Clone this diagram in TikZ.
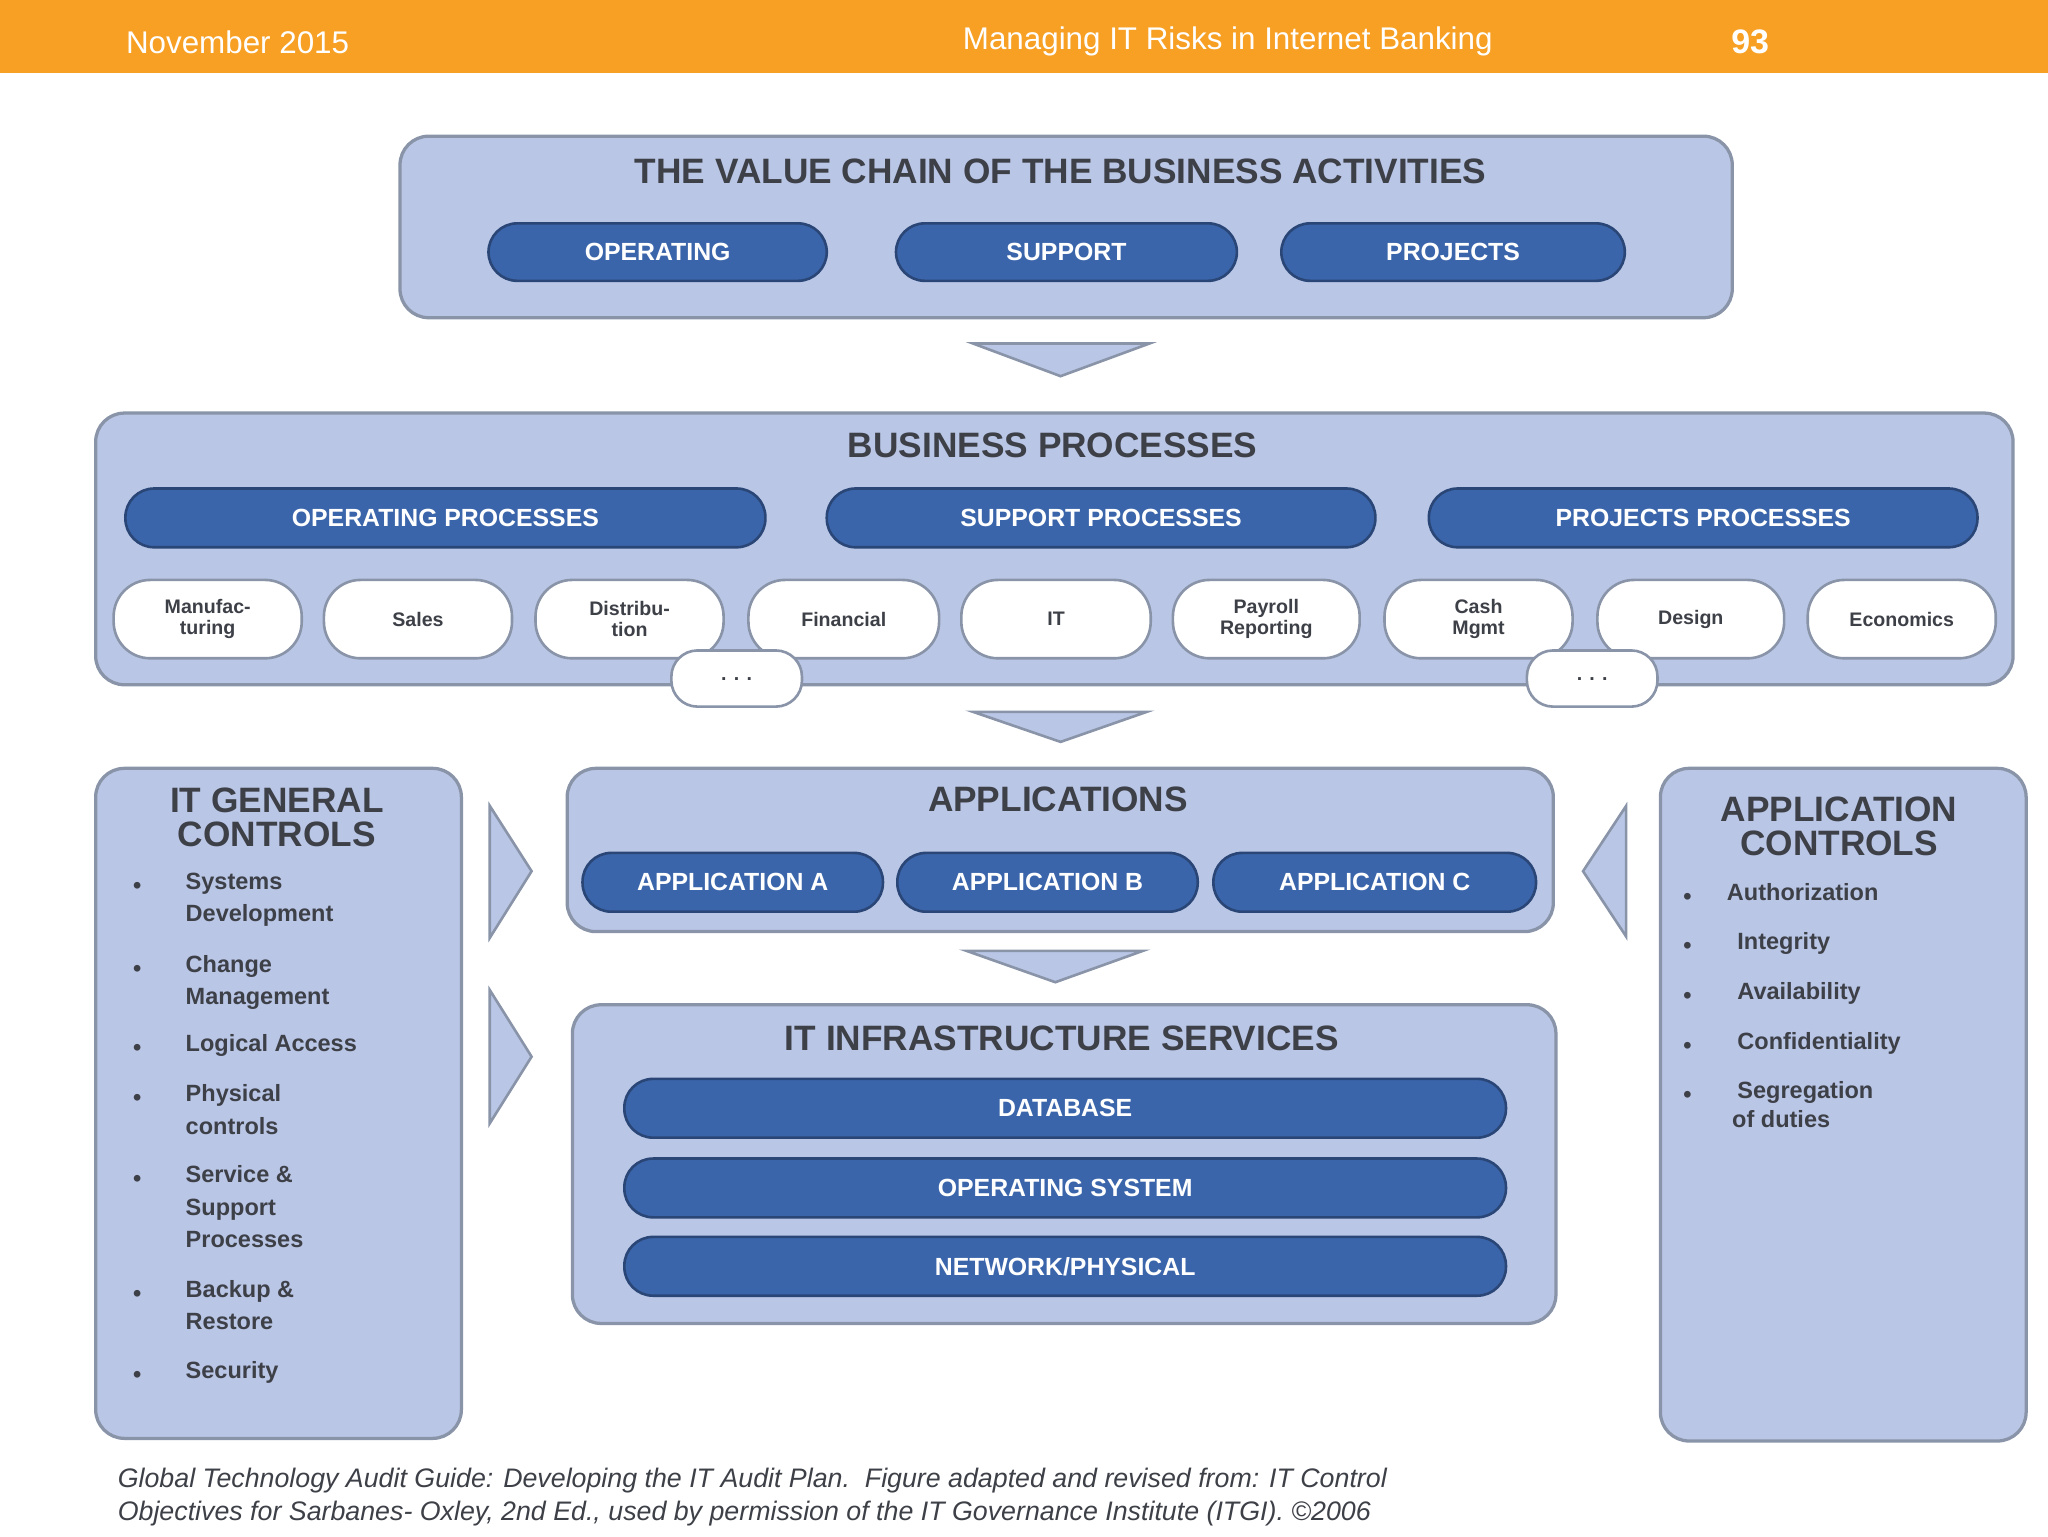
\documentclass[tikz,border=0pt]{standalone}
\usepackage{fontspec}
\setmainfont{Liberation Sans}
\begin{document}
\begin{tikzpicture}[x=1pt,y=-1pt,
  box/.style={draw=boxline,line width=2.5pt,fill=boxfill,rounded corners=22pt,anchor=north west,inner sep=0pt},
  pill/.style={draw=pillline,line width=2pt,fill=pillfill,rounded corners=22pt,anchor=north west,inner sep=0pt,text=white,font=\fontsize{19}{20}\selectfont\bfseries},
  wpill/.style={draw=boxline,line width=2pt,fill=white,rounded corners=28pt,anchor=north west,inner sep=0pt,text=titlec,align=center,font=\fontsize{15}{16}\selectfont\bfseries},
  ttl/.style={text=titlec,font=\fontsize{27}{30}\selectfont\bfseries,align=center},
  item/.style={text=titlec,font=\fontsize{18}{25}\selectfont\bfseries,align=left,anchor=north west,inner sep=0pt},
  bul/.style={text=titlec,font=\fontsize{18}{20}\selectfont\bfseries},
  tri/.style={draw=boxline,line width=2pt,fill=boxfill}]
\definecolor{boxfill}{HTML}{B9C6E6}
\definecolor{boxline}{HTML}{8A94A8}
\definecolor{pillfill}{HTML}{3B65AA}
\definecolor{pillline}{HTML}{2A4677}
\definecolor{titlec}{HTML}{3E4048}
\definecolor{orng}{HTML}{F7A024}
\useasboundingbox (0,0) rectangle (1568,1176);
\fill[white] (0,0) rectangle (1568,1176);
\fill[orng] (0,0) rectangle (1568,56);
\node[text=white,anchor=west,font=\fontsize{24}{26}\selectfont] (hd1) at (93,32) {November 2015};
\node[text=white,font=\fontsize{24}{26}\selectfont] (hd2) at (940,32) {Managing IT Risks in Internet Banking};
\node[text=white,font=\fontsize{26}{28}\selectfont\bfseries] (hd3) at (1340,32) {93};
% value chain
\node[box,minimum width=1020,minimum height=139] (vc) at (305,103) {};
\node[ttl] (vct) at (812,131) {THE VALUE CHAIN OF THE BUSINESS ACTIVITIES};
\node[pill,minimum width=259,minimum height=44] (p1) at (373,170) {OPERATING};
\node[pill,minimum width=261,minimum height=44] (p2) at (685,170) {SUPPORT};
\node[pill,minimum width=263,minimum height=44] (p3) at (980,170) {PROJECTS};
\draw[tri] (745,263) -- (880,263) -- (812,288) -- cycle;
% business processes
\node[box,minimum width=1468,minimum height=208] (bp) at (72,315) {};
\node[ttl] (bpt) at (806,341) {BUSINESS PROCESSES};
\node[pill,minimum width=490,minimum height=45] (q1) at (95,373) {OPERATING PROCESSES};
\node[pill,minimum width=420,minimum height=45] (q2) at (632,373) {SUPPORT PROCESSES};
\node[pill,minimum width=420,minimum height=45] (q3) at (1093,373) {PROJECTS PROCESSES};
\foreach \x/\w/\t [count=\i] in {86/144/{Manufac-\\turing},247/144/Sales,409/144/{Distribu-\\tion},572/146/Financial,735/145/IT,897/143/{Payroll\\Reporting},1059/144/{Cash\\Mgmt},1222/143/Design,1383/144/Economics}
  \node[wpill,minimum width=\w,minimum height=60] (w\i) at (\x,443) {\t};
\node[wpill,minimum width=100,minimum height=43,rounded corners=20pt] (d1) at (513,497) {. . .};
\node[wpill,minimum width=100,minimum height=43,rounded corners=20pt] (d2) at (1168,497) {. . .};
\draw[tri] (745,545) -- (878,545) -- (812,568) -- cycle;
% IT general controls
\node[box,minimum width=280,minimum height=513] (gc) at (72,587) {};
\node[ttl] (gct) at (212,626) {IT GENERAL\\[-4pt]CONTROLS};
\foreach \y/\t [count=\i] in {668/{Systems\\Development},731/{Change\\Management},792/{Logical Access},830/{Physical\\controls},892/{Service \&\\Support\\Processes},980/{Backup \&\\Restore},1042/{Security}}{
  \node[bul] (gb\i) at (105,\y+12) {•};
  \node[item] (gi\i) at (142,\y) {\t};}
\draw[tri] (375,617) -- (407,667) -- (375,718) -- cycle;
\draw[tri] (375,758) -- (407,809) -- (375,860) -- cycle;
% applications
\node[box,minimum width=755,minimum height=125] (ap) at (433,587) {};
\node[ttl] (apt) at (810,612) {APPLICATIONS};
\node[pill,minimum width=230,minimum height=45] (a1) at (445,652) {APPLICATION A};
\node[pill,minimum width=230,minimum height=45] (a2) at (686,652) {APPLICATION B};
\node[pill,minimum width=247,minimum height=45] (a3) at (928,652) {APPLICATION C};
\draw[tri] (740,728) -- (875,728) -- (808,752) -- cycle;
% infrastructure
\node[box,minimum width=753,minimum height=244] (inf) at (437,768) {};
\node[ttl] (inft) at (813,795) {IT INFRASTRUCTURE SERVICES};
\node[pill,minimum width=675,minimum height=45] (i1) at (477,825) {DATABASE};
\node[pill,minimum width=675,minimum height=45] (i2) at (477,886) {OPERATING SYSTEM};
\node[pill,minimum width=675,minimum height=45] (i3) at (477,946) {NETWORK/PHYSICAL};
\draw[tri] (1245,617) -- (1212,667) -- (1245,717) -- cycle;
% application controls
\node[box,minimum width=280,minimum height=515] (ac) at (1270,587) {};
\node[ttl] (act) at (1408,633) {APPLICATION\\[-4pt]CONTROLS};
\foreach \y/\x/\t [count=\i] in {676/1322/Authorization,714/1330/Integrity,752/1330/Availability,790/1330/Confidentiality,828/1330/{Segregation\\[-3pt]\hspace*{-4pt}of duties}}{
  \node[bul] (ab\i) at (1292,\y+12) {•};
  \node[item] (ai\i) at (\x,\y) {\t};}
% caption
\node[anchor=north west,inner sep=0pt,align=left,text=titlec,font=\fontsize{20.5}{25}\selectfont\itshape] (cap) at (90,1124)
 {Global Technology Audit Guide: Developing the IT Audit Plan.\ \ Figure adapted and revised from: IT Control\\Objectives for Sarbanes- Oxley, 2nd Ed., used by permission of the IT Governance Institute (ITGI). ©2006};
\end{tikzpicture}
\end{document}
